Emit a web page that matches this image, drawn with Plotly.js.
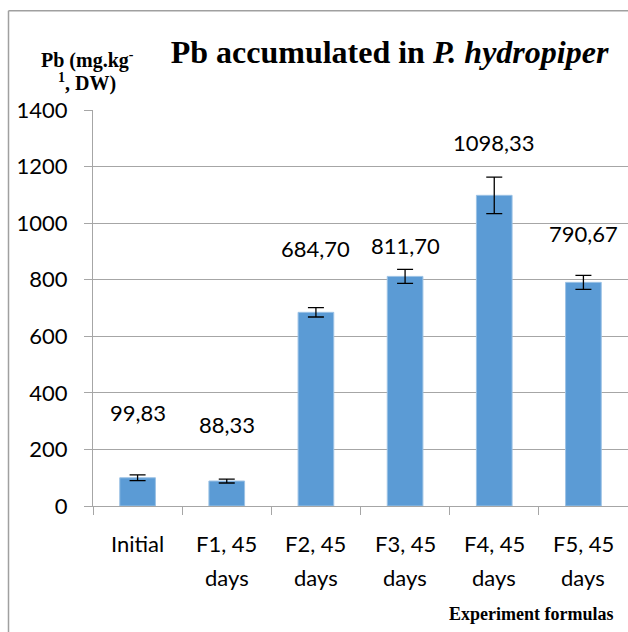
<!DOCTYPE html>
<html>
<head>
<meta charset="utf-8">
<script src="https://cdn.plot.ly/plotly-3.0.1.min.js"></script>
<style>
html,body{margin:0;padding:0;background:#fff;}
#chart{width:628px;height:632px;}
</style>
</head>
<body>
<div id="chart"></div>
<script>
// ---- data ----
var categories = ["Initial", "F1, 45<br>days", "F2, 45<br>days", "F3, 45<br>days", "F4, 45<br>days", "F5, 45<br>days"];
var pbValues = [99.83, 88.33, 684.70, 811.70, 1098.33, 790.67];
var pbErrors = [10, 7, 16.5, 24.7, 64.6, 24.7];
var valueLabels = ["99,83", "88,33", "684,70", "811,70", "1098,33", "790,67"];
var yTickValues = [0, 200, 400, 600, 800, 1000, 1200, 1400];

// ---- layout helpers (layout only) ----
var W = 628, H = 632;
var M = {l: 93, r: 0, t: 110, b: 125.5};
var PW = W - M.l - M.r, PH = H - M.t - M.b;
function xp(px){ return (px - M.l) / PW; }
function yp(py){ return (H - M.b - py) / PH; }
// label heights above the bars, in axis units
var labelHeights = [329, 288, 909, 920, 1285, 962];

var sans = "Lato, 'Open Sans', sans-serif";
var serif = "'Liberation Serif', 'Times New Roman', serif";
var grid = "#a6a6a6";

var trace = {
  type: "bar",
  x: categories,
  y: pbValues,
  marker: {color: "#5b9bd5", line: {color: "#9cc2e5", width: 1}},
  error_y: {type: "data", array: pbErrors, visible: true, color: "#000", thickness: 1.3, width: 8},
  hoverinfo: "none"
};

var annotations = [];
categories.forEach(function(c, i){
  annotations.push({
    x: c, y: labelHeights[i], xref: "x", yref: "y",
    text: valueLabels[i], showarrow: false,
    font: {family: sans, size: 22, color: "#000"},
    xanchor: "center", yanchor: "middle"
  });
  var lines = c.split("<br>");
  lines.forEach(function(t, k){
    annotations.push({
      x: c, y: yp(544 + 34 * k), xref: "x", yref: "paper",
      text: t, showarrow: false,
      font: {family: sans, size: 22, color: "#000"},
      xanchor: "center", yanchor: "middle"
    });
  });
});
annotations.push({
  x: xp(87), y: yp(59), xref: "paper", yref: "paper",
  text: "<b>Pb (mg.kg<sup>-</sup></b>", showarrow: false,
  font: {family: serif, size: 20, color: "#000"}, xanchor: "center", yanchor: "middle"
});
annotations.push({
  x: xp(87), y: yp(82), xref: "paper", yref: "paper",
  text: "<b><sup>1</sup>, DW)</b>", showarrow: false,
  font: {family: serif, size: 20, color: "#000"}, xanchor: "center", yanchor: "middle"
});
annotations.push({
  x: xp(531), y: yp(615), xref: "paper", yref: "paper",
  text: "<b>Experiment formulas</b>", showarrow: false,
  font: {family: serif, size: 18, color: "#000"}, xanchor: "center", yanchor: "middle"
});

var layout = {
  width: W, height: H,
  margin: M,
  paper_bgcolor: "#fff", plot_bgcolor: "#fff",
  showlegend: false,
  bargap: 0.6,
  title: {
    text: "<b>Pb accumulated in <i>P. hydropiper</i></b>",
    font: {family: serif, size: 32, color: "#000"},
    xref: "container", yref: "container",
    x: 389.5 / W, xanchor: "center",
    y: 1 - 52 / H, yanchor: "middle"
  },
  xaxis: {
    type: "category",
    range: [-0.5, 5.5],
    showticklabels: false,
    ticks: "outside", tickson: "boundaries", ticklen: 8, tickcolor: grid, tickwidth: 1,
    showline: true, linecolor: grid, linewidth: 1,
    showgrid: false, zeroline: false, fixedrange: true
  },
  yaxis: {
    range: [0, 1400],
    tickvals: yTickValues,
    ticktext: yTickValues.map(String),
    ticks: "outside", ticklen: 8, tickcolor: grid, tickwidth: 1,
    ticklabelstandoff: 12,
    tickfont: {family: sans, size: 22, color: "#000"},
    showline: true, linecolor: grid, linewidth: 1,
    showgrid: true, gridcolor: grid, gridwidth: 1,
    zeroline: false, fixedrange: true
  },
  annotations: annotations,
  shapes: [
    {type: "line", xref: "paper", yref: "paper", x0: xp(8.5), x1: xp(8.5), y0: yp(10.5), y1: yp(640), line: {color: "#a0a0a0", width: 1.5}},
    {type: "line", xref: "paper", yref: "paper", x0: xp(8.5), x1: xp(640), y0: yp(10.5), y1: yp(10.5), line: {color: "#a0a0a0", width: 1.5}}
  ]
};

Plotly.newPlot("chart", [trace], layout, {displayModeBar: false, staticPlot: true});
</script>
</body>
</html>
